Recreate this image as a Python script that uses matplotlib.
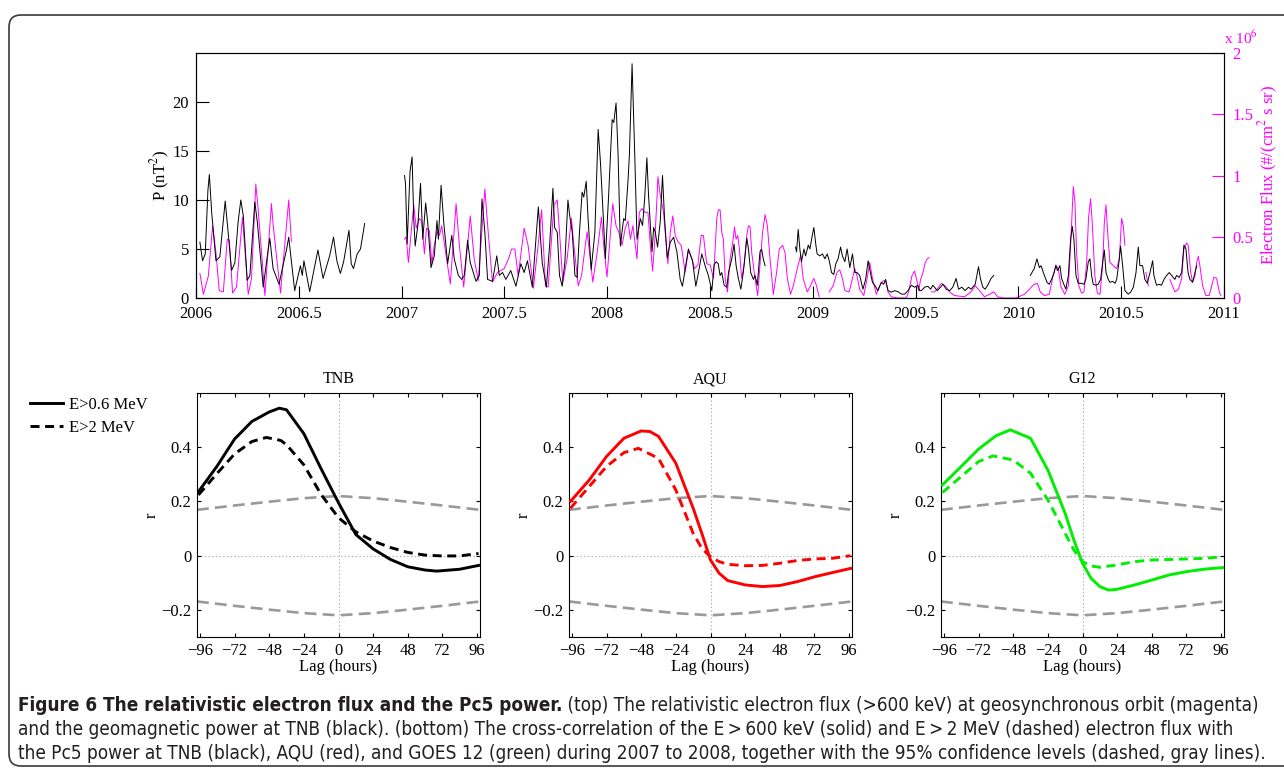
import numpy as np
import matplotlib
matplotlib.use("Agg")
import matplotlib.pyplot as plt
from matplotlib.patches import FancyBboxPatch
from matplotlib.transforms import IdentityTransform
from matplotlib.ticker import FuncFormatter

plt.rcParams['font.family'] = ['Liberation Serif', 'DejaVu Serif']
plt.rcParams['mathtext.fontset'] = 'stix'
plt.rcParams['lines.scale_dashes'] = False
plt.rcParams['axes.linewidth'] = 0.8

W, H = 1284, 772

# ---- top panel: Pc5 power at TNB (nT^2), one list per data segment
power_2006 = [(2006.019, 5.7), (2006.032, 3.8), (2006.045, 4.5), (2006.058, 11.0), (2006.065, 12.6),
              (2006.076, 8.8), (2006.097, 3.8), (2006.116, 4.2), (2006.142, 9.9), (2006.155, 7.0),
              (2006.173, 2.8), (2006.189, 3.6), (2006.205, 7.8), (2006.218, 10.0), (2006.230, 8.4),
              (2006.249, 1.8), (2006.262, 2.3), (2006.286, 9.8), (2006.298, 7.8), (2006.327, 1.1),
              (2006.345, 4.0), (2006.359, 6.1), (2006.375, 3.0), (2006.404, 1.4), (2006.425, 3.5),
              (2006.440, 4.9), (2006.451, 6.2), (2006.480, 0.75), (2006.508, 3.3), (2006.517, 2.3),
              (2006.525, 3.8), (2006.553, 0.65), (2006.575, 3.0), (2006.593, 4.9), (2006.618, 2.0),
              (2006.650, 4.3), (2006.669, 6.2), (2006.685, 3.8), (2006.702, 2.5), (2006.718, 3.7),
              (2006.744, 6.9), (2006.755, 3.5), (2006.766, 3.0), (2006.784, 4.5), (2006.800, 5.0),
              (2006.815, 6.9), (2006.820, 7.6)]
power_2007 = [(2007.014, 12.5), (2007.019, 11.7), (2007.027, 5.5), (2007.041, 12.9), (2007.051, 14.4),
              (2007.059, 8.1), (2007.066, 5.3), (2007.079, 7.4), (2007.092, 11.7), (2007.103, 6.0),
              (2007.117, 9.7), (2007.127, 7.7), (2007.143, 3.1), (2007.159, 4.3), (2007.172, 7.9),
              (2007.179, 6.0), (2007.192, 11.5), (2007.205, 7.7), (2007.224, 3.5), (2007.244, 6.4),
              (2007.256, 4.0), (2007.276, 2.3), (2007.292, 1.9), (2007.305, 2.3), (2007.321, 5.9),
              (2007.334, 3.6), (2007.362, 1.7), (2007.378, 2.3), (2007.391, 10.1), (2007.405, 6.7),
              (2007.418, 1.9), (2007.442, 1.7), (2007.463, 4.3), (2007.475, 2.3), (2007.491, 2.6),
              (2007.507, 1.9), (2007.531, 2.8), (2007.556, 1.2), (2007.580, 3.5), (2007.596, 2.6),
              (2007.612, 3.8), (2007.636, 1.1), (2007.665, 9.3), (2007.684, 3.6), (2007.704, 1.1),
              (2007.720, 5.4), (2007.736, 11.2), (2007.744, 7.2), (2007.757, 6.7), (2007.768, 2.3),
              (2007.781, 1.2), (2007.794, 3.6), (2007.809, 10.0), (2007.817, 8.5), (2007.830, 6.7),
              (2007.843, 2.3), (2007.854, 2.1), (2007.865, 6.7), (2007.878, 10.8), (2007.886, 10.3),
              (2007.898, 11.9), (2007.907, 8.1), (2007.922, 2.9), (2007.940, 6.7), (2007.956, 17.2),
              (2007.967, 13.9), (2007.978, 9.5), (2007.991, 4.0), (2008.007, 10.5), (2008.024, 18.2),
              (2008.032, 17.9), (2008.043, 19.9), (2008.053, 14.6), (2008.064, 5.3), (2008.080, 8.1),
              (2008.088, 7.9), (2008.101, 11.9), (2008.108, 14.6), (2008.121, 23.9), (2008.134, 14.6),
              (2008.145, 6.0), (2008.161, 8.1), (2008.172, 7.4), (2008.182, 10.1), (2008.193, 14.3),
              (2008.201, 10.5), (2008.218, 4.7), (2008.226, 7.2), (2008.234, 6.7), (2008.245, 5.2),
              (2008.258, 7.8), (2008.269, 12.5), (2008.279, 8.1), (2008.292, 4.1), (2008.307, 5.7),
              (2008.323, 6.2), (2008.339, 4.7), (2008.355, 1.9), (2008.366, 1.2), (2008.384, 3.6),
              (2008.395, 5.0), (2008.415, 3.8), (2008.431, 1.2), (2008.444, 2.6), (2008.460, 4.5),
              (2008.476, 3.3), (2008.492, 2.3), (2008.509, 0.75), (2008.520, 3.4), (2008.530, 3.7),
              (2008.540, 3.5), (2008.549, 2.3), (2008.557, 2.6), (2008.569, 1.3), (2008.582, 1.1),
              (2008.590, 2.6), (2008.606, 4.0), (2008.617, 5.5), (2008.627, 3.3), (2008.638, 2.0),
              (2008.650, 0.9), (2008.662, 2.6), (2008.679, 6.1), (2008.687, 5.0), (2008.698, 2.6),
              (2008.711, 1.9), (2008.719, 2.3), (2008.730, 1.3), (2008.743, 4.7), (2008.751, 5.0),
              (2008.759, 4.0), (2008.768, 3.3)]
power_2009 = [(2008.916, 5.2), (2008.921, 4.7), (2008.929, 7.0), (2008.937, 5.0), (2008.945, 3.7),
              (2008.957, 5.0), (2008.965, 4.3), (2008.978, 5.4), (2008.986, 5.0), (2008.995, 6.1),
              (2009.005, 7.2), (2009.015, 5.4), (2009.021, 4.5), (2009.034, 4.3), (2009.047, 4.5),
              (2009.059, 4.0), (2009.070, 4.5), (2009.080, 3.8), (2009.091, 2.6), (2009.102, 2.4),
              (2009.112, 3.5), (2009.123, 4.0), (2009.135, 5.2), (2009.144, 4.3), (2009.156, 3.7),
              (2009.167, 5.0), (2009.180, 3.1), (2009.193, 4.5), (2009.204, 2.6), (2009.215, 2.6),
              (2009.228, 2.3), (2009.244, 0.9), (2009.257, 1.9), (2009.269, 3.8), (2009.280, 2.6),
              (2009.290, 1.6), (2009.301, 1.3), (2009.317, 0.75), (2009.333, 1.6), (2009.345, 1.4),
              (2009.354, 1.9), (2009.366, 0.75), (2009.382, 0.6), (2009.398, 0.75), (2009.414, 0.65),
              (2009.431, 0.4), (2009.447, 0.4), (2009.463, 0.75), (2009.479, 1.3), (2009.495, 1.1),
              (2009.511, 1.3), (2009.520, 0.75), (2009.528, 0.75), (2009.544, 1.1), (2009.560, 1.2),
              (2009.573, 0.9), (2009.584, 1.3), (2009.592, 1.1), (2009.605, 0.75), (2009.621, 1.1),
              (2009.633, 1.4), (2009.649, 0.9), (2009.665, 0.75), (2009.681, 1.1), (2009.697, 2.0),
              (2009.709, 0.9), (2009.725, 1.1), (2009.741, 0.75), (2009.757, 1.1), (2009.770, 0.9),
              (2009.790, 1.4), (2009.806, 3.2), (2009.815, 2.0), (2009.827, 1.1), (2009.838, 0.9),
              (2009.851, 1.3), (2009.867, 2.0), (2009.880, 2.3)]
power_2010 = [(2010.058, 2.3), (2010.077, 3.0), (2010.090, 4.0), (2010.102, 3.1), (2010.110, 3.3),
              (2010.123, 2.5), (2010.139, 1.6), (2010.150, 1.4), (2010.161, 1.9), (2010.174, 2.6),
              (2010.182, 3.3), (2010.190, 2.8), (2010.202, 3.3), (2010.210, 2.0), (2010.221, 1.4),
              (2010.231, 0.9), (2010.243, 2.3), (2010.254, 6.0), (2010.262, 7.3), (2010.270, 6.0),
              (2010.280, 2.3), (2010.291, 1.5), (2010.307, 1.5), (2010.319, 1.4), (2010.328, 1.9),
              (2010.340, 3.7), (2010.348, 4.0), (2010.356, 2.3), (2010.364, 1.4), (2010.377, 1.3),
              (2010.388, 1.4), (2010.400, 1.9), (2010.410, 3.7), (2010.418, 4.9), (2010.426, 2.6),
              (2010.437, 1.9), (2010.445, 1.6), (2010.458, 1.7), (2010.470, 1.5), (2010.478, 1.9),
              (2010.487, 3.3), (2010.497, 5.3), (2010.507, 3.3), (2010.518, 0.75), (2010.534, 0.4),
              (2010.546, 0.6), (2010.559, 1.1), (2010.572, 2.6), (2010.583, 5.2), (2010.591, 3.3),
              (2010.604, 3.3), (2010.615, 1.9), (2010.627, 1.5), (2010.640, 2.6), (2010.653, 3.8),
              (2010.659, 2.3), (2010.672, 1.3), (2010.685, 1.4), (2010.696, 1.3), (2010.708, 1.9),
              (2010.721, 2.3), (2010.734, 2.6), (2010.745, 2.3), (2010.761, 1.9), (2010.769, 2.3),
              (2010.782, 2.1), (2010.794, 2.6), (2010.805, 5.4), (2010.815, 5.0), (2010.825, 2.6),
              (2010.834, 1.9), (2010.847, 1.6), (2010.859, 2.6), (2010.867, 3.3)]
power_segments = [power_2006, power_2007, power_2009, power_2010]

# ---- top panel: electron flux at geosynchronous orbit, units of 10^6 #/(cm^2 s sr)
flux_2006 = [(2006.019, 0.20), (2006.036, 0.03), (2006.060, 0.18), (2006.081, 0.59), (2006.097, 0.37),
             (2006.113, 0.06), (2006.133, 0.05), (2006.152, 0.48), (2006.162, 0.47), (2006.178, 0.04),
             (2006.197, 0.09), (2006.226, 0.66), (2006.254, 0.03), (2006.270, 0.16), (2006.291, 0.93),
             (2006.302, 0.73), (2006.335, 0.02), (2006.367, 0.77), (2006.375, 0.60), (2006.411, 0.04),
             (2006.451, 0.80), (2006.464, 0.46)]
flux_2007 = [(2007.014, 0.48), (2007.022, 0.50), (2007.033, 0.29), (2007.059, 0.76), (2007.071, 0.57),
             (2007.087, 0.65), (2007.098, 0.62), (2007.111, 0.36), (2007.121, 0.57), (2007.135, 0.55),
             (2007.147, 0.28), (2007.159, 0.43), (2007.172, 0.54), (2007.184, 0.51), (2007.195, 0.59),
             (2007.216, 0.35), (2007.237, 0.115), (2007.265, 0.77), (2007.281, 0.43), (2007.302, 0.09),
             (2007.334, 0.67), (2007.353, 0.32), (2007.373, 0.14), (2007.405, 0.89), (2007.421, 0.54),
             (2007.442, 0.13), (2007.467, 0.21), (2007.499, 0.24), (2007.520, 0.32), (2007.535, 0.40),
             (2007.551, 0.40), (2007.567, 0.18), (2007.596, 0.57), (2007.615, 0.43), (2007.641, 0.08),
             (2007.664, 0.43), (2007.681, 0.72), (2007.700, 0.10), (2007.713, 0.09), (2007.741, 0.76),
             (2007.757, 0.80), (2007.768, 0.54), (2007.784, 0.13), (2007.805, 0.32), (2007.826, 0.65),
             (2007.838, 0.43), (2007.859, 0.10), (2007.875, 0.18), (2007.902, 0.54), (2007.910, 0.43),
             (2007.930, 0.13), (2007.951, 0.37), (2007.972, 0.66), (2007.983, 0.43), (2007.999, 0.17),
             (2008.016, 0.54), (2008.027, 0.77), (2008.043, 0.59), (2008.056, 0.54), (2008.072, 0.43),
             (2008.088, 0.57), (2008.101, 0.63), (2008.113, 0.48), (2008.125, 0.59), (2008.145, 0.32),
             (2008.156, 0.70), (2008.169, 0.73), (2008.182, 0.70), (2008.198, 0.70), (2008.210, 0.43),
             (2008.221, 0.22), (2008.234, 0.54), (2008.247, 0.99), (2008.258, 0.84), (2008.274, 0.70),
             (2008.295, 0.28), (2008.307, 0.54), (2008.319, 0.67), (2008.331, 0.51), (2008.344, 0.46),
             (2008.360, 0.43), (2008.379, 0.21), (2008.395, 0.39), (2008.412, 0.32), (2008.425, 0.24),
             (2008.441, 0.27), (2008.457, 0.51), (2008.468, 0.51), (2008.484, 0.28), (2008.501, 0.27),
             (2008.517, 0.16), (2008.533, 0.65), (2008.541, 0.72), (2008.549, 0.72), (2008.557, 0.54),
             (2008.565, 0.48), (2008.574, 0.16), (2008.585, 0.05), (2008.598, 0.32), (2008.611, 0.46),
             (2008.619, 0.58), (2008.627, 0.48), (2008.635, 0.51), (2008.643, 0.40), (2008.654, 0.16),
             (2008.666, 0.27), (2008.679, 0.51), (2008.687, 0.59), (2008.695, 0.58), (2008.703, 0.37),
             (2008.719, 0.16), (2008.732, 0.02), (2008.743, 0.27), (2008.756, 0.54), (2008.768, 0.68),
             (2008.779, 0.59), (2008.792, 0.32), (2008.808, 0.03), (2008.824, 0.21), (2008.837, 0.40),
             (2008.853, 0.43), (2008.865, 0.37), (2008.876, 0.16), (2008.892, 0.03), (2008.905, 0.10),
             (2008.929, 0.27), (2008.941, 0.35), (2008.953, 0.16), (2008.973, 0.05), (2008.989, 0.10),
             (2009.005, 0.16), (2009.018, 0.10), (2009.031, 0.01)]
flux_2009a = [(2009.080, 0.05), (2009.099, 0.10), (2009.118, 0.21), (2009.131, 0.23), (2009.144, 0.16),
              (2009.156, 0.06), (2009.177, 0.05), (2009.193, 0.16), (2009.204, 0.24), (2009.215, 0.18),
              (2009.228, 0.07), (2009.248, 0.02), (2009.264, 0.16), (2009.277, 0.29), (2009.290, 0.16),
              (2009.309, 0.03), (2009.325, 0.10), (2009.341, 0.14), (2009.354, 0.14), (2009.366, 0.05),
              (2009.382, 0.01), (2009.414, 0.0), (2009.455, 0.0), (2009.466, 0.05), (2009.482, 0.18),
              (2009.495, 0.22), (2009.505, 0.15), (2009.515, 0.06), (2009.524, 0.15), (2009.536, 0.21),
              (2009.547, 0.29), (2009.557, 0.32), (2009.566, 0.33)]
flux_2009b = [(2009.576, 0.05), (2009.592, 0.05), (2009.608, 0.08), (2009.625, 0.12), (2009.644, 0.10),
              (2009.665, 0.05), (2009.689, 0.02), (2009.738, 0.01), (2009.770, 0.05), (2009.790, 0.10),
              (2009.811, 0.06), (2009.835, 0.01), (2009.859, 0.03), (2009.880, 0.05), (2009.899, 0.01),
              (2009.924, 0.0), (2009.988, 0.0), (2010.029, 0.03), (2010.053, 0.07), (2010.074, 0.11),
              (2010.093, 0.12), (2010.106, 0.05), (2010.126, 0.02), (2010.150, 0.03), (2010.166, 0.16),
              (2010.182, 0.27), (2010.194, 0.24), (2010.207, 0.09), (2010.226, 0.03), (2010.243, 0.10),
              (2010.254, 0.43), (2010.267, 0.91), (2010.275, 0.78), (2010.283, 0.37), (2010.294, 0.10),
              (2010.307, 0.04), (2010.319, 0.05), (2010.332, 0.29), (2010.341, 0.65), (2010.351, 0.81),
              (2010.359, 0.62), (2010.372, 0.18), (2010.384, 0.04), (2010.397, 0.03), (2010.410, 0.27),
              (2010.418, 0.62), (2010.426, 0.76), (2010.434, 0.54), (2010.445, 0.29), (2010.458, 0.27),
              (2010.470, 0.25), (2010.478, 0.24), (2010.491, 0.32), (2010.502, 0.65), (2010.510, 0.59),
              (2010.518, 0.43)]
flux_2010a = [(2010.620, 0.21), (2010.632, 0.10)]
flux_2010b = [(2010.737, 0.15), (2010.761, 0.05), (2010.778, 0.07), (2010.794, 0.16), (2010.805, 0.40),
              (2010.818, 0.45), (2010.826, 0.43), (2010.838, 0.21), (2010.847, 0.13), (2010.859, 0.18),
              (2010.867, 0.29), (2010.875, 0.34), (2010.883, 0.26), (2010.896, 0.10), (2010.912, 0.02),
              (2010.928, 0.02), (2010.940, 0.10), (2010.951, 0.17), (2010.964, 0.16), (2010.977, 0.05),
              (2010.985, 0.02)]
flux_segments = [flux_2006, flux_2007, flux_2009a, flux_2009b, flux_2010a, flux_2010b]

year_ticks = [2006, 2006.5, 2007, 2007.5, 2008, 2008.5, 2009, 2009.5, 2010, 2010.5, 2011]
power_ticks = [0, 5, 10, 15, 20]
flux_ticks = [0, 0.5, 1, 1.5, 2]

# ---- bottom panels: cross-correlation r vs lag (hours)
tnb_lag_solid = [-97, -84, -72, -60, -48, -41, -36, -24, -12, 0, 12, 24, 36, 48, 60, 68, 84, 97]
tnb_r_solid = [0.236, 0.331, 0.430, 0.495, 0.530, 0.544, 0.538, 0.450, 0.320, 0.195, 0.078, 0.025,
               -0.014, -0.041, -0.053, -0.057, -0.050, -0.036]
tnb_lag_dash = [-97, -84, -72, -60, -50, -40, -36, -24, -12, 0, 12, 24, 36, 48, 60, 72, 84, 97]
tnb_r_dash = [0.224, 0.304, 0.375, 0.421, 0.436, 0.425, 0.409, 0.335, 0.225, 0.140, 0.088, 0.054,
              0.030, 0.012, 0.002, -0.001, -0.001, 0.008]

aqu_lag_solid = [-97, -84, -72, -60, -48, -42, -36, -24, -12, -6, 0, 6, 12, 24, 36, 48, 60, 72, 84, 97]
aqu_r_solid = [0.200, 0.279, 0.366, 0.433, 0.460, 0.458, 0.440, 0.341, 0.175, 0.082, -0.016, -0.065,
               -0.092, -0.108, -0.114, -0.110, -0.096, -0.078, -0.063, -0.047]
aqu_lag_dash = [-97, -84, -72, -60, -50, -36, -24, -12, -6, 0, 6, 12, 24, 36, 48, 60, 72, 84, 97]
aqu_r_dash = [0.175, 0.255, 0.329, 0.380, 0.396, 0.359, 0.242, 0.082, 0.027, -0.004, -0.022, -0.032,
              -0.037, -0.036, -0.028, -0.018, -0.012, -0.010, 0.000]

g12_lag_solid = [-97, -84, -72, -60, -50, -36, -24, -12, -6, 0, 6, 12, 18, 24, 36, 48, 60, 72, 84, 97]
g12_r_solid = [0.261, 0.329, 0.393, 0.442, 0.464, 0.433, 0.316, 0.156, 0.058, -0.028, -0.084, -0.114,
               -0.127, -0.124, -0.108, -0.090, -0.071, -0.059, -0.050, -0.044]
g12_lag_dash = [-97, -84, -72, -62, -48, -36, -24, -12, -6, 0, 6, 12, 24, 36, 48, 60, 72, 84, 97]
g12_r_dash = [0.233, 0.292, 0.347, 0.368, 0.353, 0.304, 0.206, 0.082, 0.021, -0.022, -0.038, -0.043,
              -0.034, -0.022, -0.016, -0.014, -0.012, -0.010, -0.004]

conf_lag = [-98, -72, -48, -24, 0, 24, 48, 72, 98]
conf_upper = [0.169, 0.185, 0.199, 0.212, 0.220, 0.212, 0.199, 0.185, 0.169]
conf_lower = [-0.169, -0.185, -0.199, -0.212, -0.220, -0.212, -0.199, -0.185, -0.169]

lag_ticks = [-96, -72, -48, -24, 0, 24, 48, 72, 96]
r_ticks = [-0.2, 0, 0.2, 0.4]

stations = ["TNB", "AQU", "G12"]
station_colors = ["black", "#ff0000", "#00ee00"]
legend_labels = ["E>0.6 MeV", "E>2 MeV"]

caption_bold = "Figure 6 The relativistic electron flux and the Pc5 power."
caption_lines = [
    " (top) The relativistic electron flux (>600 keV) at geosynchronous orbit (magenta)",
    "and the geomagnetic power at TNB (black). (bottom) The cross-correlation of the E\u2009>\u2009600 keV (solid) "
    "and E\u2009>\u20092 MeV (dashed) electron flux with",
    "the Pc5 power at TNB (black), AQU (red), and GOES 12 (green) during 2007 to 2008, together with the 95% "
    "confidence levels (dashed, gray lines).",
]


def minus_fmt(v, pos):
    return ("%g" % v).replace("-", "\u2212")


fig = plt.figure(figsize=(W / 100, H / 100), dpi=100)

# rounded frame around the whole figure
frame = FancyBboxPatch((9, 6), 1300, 751, boxstyle="round,pad=0,rounding_size=12",
                       transform=IdentityTransform(), fill=False, ec="#3a3a3a", lw=1.2)
fig.add_artist(frame)

# ---------------- top panel
ax = fig.add_axes([196 / W, 1 - 298 / H, 1028 / W, 245 / H])
for seg in power_segments:
    t, p = zip(*seg)
    ax.plot(t, p, color="black", lw=0.7, zorder=3)
ax.set_xlim(2006, 2011)
ax.set_ylim(0, 25)
ax.set_xticks(year_ticks)
ax.xaxis.set_major_formatter(FuncFormatter(minus_fmt))
ax.set_yticks(power_ticks)
ax.tick_params(direction="in", length=9, labelsize=12, top=False, right=False)
ax.tick_params(axis="x", pad=6)
ax.tick_params(axis="y", pad=5)
ax.set_ylabel("P (nT$^2$)", fontsize=12)
ax.yaxis.set_label_coords(-0.023, 0.5)

ax2 = ax.twinx()
for seg in flux_segments:
    t, f = zip(*seg)
    ax2.plot(t, f, color="magenta", lw=0.7, zorder=2)
ax2.set_ylim(0, 2)
ax2.set_yticks(flux_ticks)
ax2.yaxis.set_major_formatter(FuncFormatter(minus_fmt))
ax2.tick_params(axis="y", direction="in", length=9, labelsize=12, colors="magenta", pad=6)
ax2.spines["right"].set_color("magenta")
ax2.set_ylabel("Electron Flux (#/(cm$^2$ s sr)", fontsize=12, color="magenta", rotation=90)
ax2.yaxis.set_label_coords(1.032, 0.5)
ax.set_zorder(ax2.get_zorder() + 1)
ax.patch.set_visible(False)
fig.text(1224 / W, 1 - 44 / H, "x 10$^6$", color="magenta", fontsize=11, ha="left", va="baseline")

# ---------------- bottom panels
panel_left = [197, 569, 941]
series = [
    (tnb_lag_solid, tnb_r_solid, tnb_lag_dash, tnb_r_dash),
    (aqu_lag_solid, aqu_r_solid, aqu_lag_dash, aqu_r_dash),
    (g12_lag_solid, g12_r_solid, g12_lag_dash, g12_r_dash),
]
legend_handles = None
for name, color, left, (ls, rs, ld, rd) in zip(stations, station_colors, panel_left, series):
    bx = fig.add_axes([left / W, 1 - 637 / H, 283 / W, 244 / H])
    bx.axhline(0, color="#b0b0b0", lw=0.8, ls=":", zorder=1)
    bx.axvline(0, color="#b0b0b0", lw=0.8, ls=":", zorder=1)
    bx.plot(conf_lag, conf_upper, color="#999999", lw=1.9, dashes=(8.5, 4.5), zorder=2)
    bx.plot(conf_lag, conf_lower, color="#999999", lw=1.9, dashes=(8.5, 4.5), zorder=2)
    l1, = bx.plot(ls, rs, color=color, lw=2.1, zorder=4)
    l2, = bx.plot(ld, rd, color=color, lw=2.1, dashes=(6.5, 4), zorder=3)
    if legend_handles is None:
        legend_handles = [l1, l2]
    bx.set_xlim(-98, 98)
    bx.set_ylim(-0.3, 0.6)
    bx.set_xticks(lag_ticks)
    bx.set_yticks(r_ticks)
    bx.xaxis.set_major_formatter(FuncFormatter(minus_fmt))
    bx.yaxis.set_major_formatter(FuncFormatter(minus_fmt))
    bx.tick_params(direction="in", length=3, labelsize=12, top=True, right=True, pad=4)
    bx.set_title(name, fontsize=11.5, pad=7)
    bx.set_xlabel("Lag (hours)", fontsize=12, labelpad=0)
    bx.set_ylabel("r", fontsize=12, labelpad=1)

fig.legend(legend_handles, legend_labels, loc="upper left", bbox_to_anchor=(30 / W, 1 - 397 / H),
           bbox_transform=fig.transFigure, frameon=False, fontsize=12, borderpad=0, borderaxespad=0,
           handlelength=2.0, handletextpad=0.35, labelspacing=0.4)

# ---------------- caption
cap_kw = dict(family=["Liberation Sans Narrow", "DejaVu Sans"], fontstretch="condensed", color="#231f20")
renderer = fig.canvas.get_renderer()
probe = fig.text(0, 0, caption_lines[2], fontsize=12, **cap_kw)
cap_size = 12 * 1244 / probe.get_window_extent(renderer).width
probe.remove()

x0 = 18
baselines = [711, 735, 759]
tb = fig.text(x0 / W, 1 - baselines[0] / H, caption_bold, fontsize=cap_size, weight="bold",
              va="baseline", **cap_kw)
wb = tb.get_window_extent(renderer).width
fig.text((x0 + wb) / W, 1 - baselines[0] / H, caption_lines[0], fontsize=cap_size, va="baseline", **cap_kw)
fig.text(x0 / W, 1 - baselines[1] / H, caption_lines[1], fontsize=cap_size, va="baseline", **cap_kw)
fig.text(x0 / W, 1 - baselines[2] / H, caption_lines[2], fontsize=cap_size, va="baseline", **cap_kw)

fig.savefig("out.png", dpi=100)
